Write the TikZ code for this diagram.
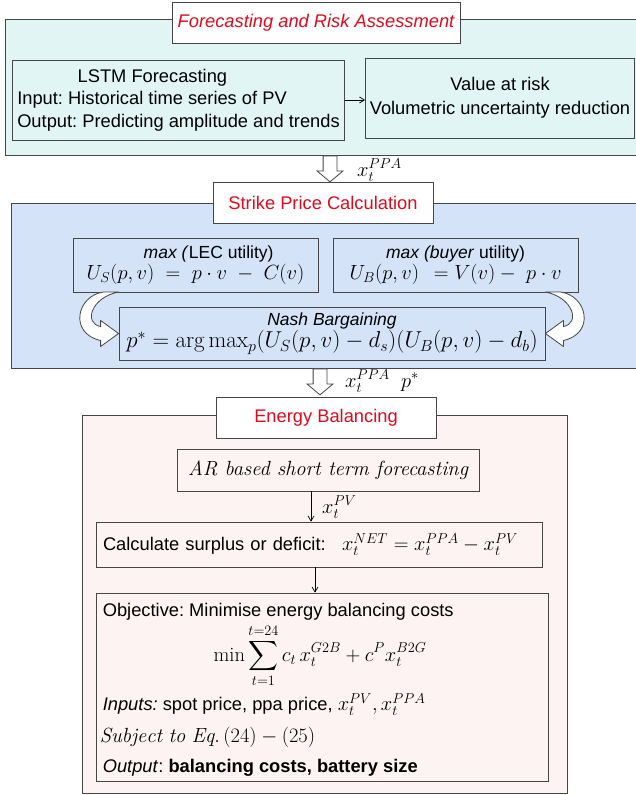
\RequirePackage{fix-cm}
\documentclass[tikz,border=0pt]{standalone}
\usepackage{amsmath}
\usepackage{fontspec}
\setsansfont{Liberation Sans}
\usetikzlibrary{shapes.arrows, arrows.meta, positioning, calc}
\definecolor{edgegray}{RGB}{70,70,70}
\definecolor{titlered}{RGB}{222,10,30}
\definecolor{fillcyan}{RGB}{226,245,245}
\definecolor{fillblue}{RGB}{213,227,248}
\definecolor{fillpink}{RGB}{253,243,243}
\newcommand{\txtsize}{\fontsize{18.3}{22.5}\selectfont}
\newcommand{\mathsize}{\fontsize{20.5}{24}\selectfont}
\tikzset{
  panel/.style={rectangle, draw=edgegray, line width=0.9pt, inner sep=0pt},
  titlebox/.style={rectangle, draw=edgegray, fill=white, line width=0.9pt,
    text=titlered, font=\sffamily\txtsize, inner sep=0pt, minimum height=41pt},
  box/.style={rectangle, draw=edgegray, line width=0.8pt, inner sep=0pt,
    font=\sffamily\txtsize},
  txt/.style={inner sep=0pt, font=\sffamily\txtsize},
  lbl/.style={inner sep=0pt, font=\mathsize},
  blockarr/.style={single arrow, draw=edgegray, fill=white, line width=0.8pt,
    rotate=-90, minimum height=26pt, minimum width=25pt, inner xsep=0pt,
    inner ysep=6.5pt, single arrow head extend=6pt, single arrow tip angle=100},
  bendarr/.style={draw=edgegray, fill=white, line width=0.8pt, line join=round},
  arrow/.style={-{Straight Barb[length=5pt,width=6pt]}, line width=0.7pt}
}

\begin{document}
\frenchspacing
\begin{tikzpicture}[x=1pt, y=-1pt]
  \useasboundingbox (0,0) rectangle (635,795);

  % Forecasting and risk assessment
  \node[panel, fill=fillcyan, minimum width=640pt, minimum height=136pt] (fra) at (325,87) {};
  \node[titlebox, font=\sffamily\itshape\txtsize, minimum width=288pt] (fratitle) at (316,23) {Forecasting and Risk Assessment};
  \node[box, fill=fillcyan, minimum width=332pt, minimum height=80pt, align=left] (lstm) at (178.5,100)
    {\hspace*{3.3em}LSTM Forecasting\\Input: Historical time series of PV\\Output: Predicting amplitude and trends};
  \node[box, fill=fillcyan, minimum width=269pt, minimum height=80pt, align=center] (var) at (500,98)
    {Value at risk\\[2pt]Volumetric uncertainty reduction};
  \draw[arrow] (lstm.east) -- (var.west |- lstm.east);

  \coordinate (colA) at (330,0);
  \node[blockarr, anchor=tail] (arrA) at (colA |- fra.south) {};
  \node[lbl, anchor=west] (lblA) at (357,170) {$x_t^{PPA}$};

  % Strike price calculation
  \node[panel, fill=fillblue, minimum width=630pt, minimum height=165pt] (spc) at (326,285.5) {};
  \node[titlebox, minimum width=220pt] (spctitle) at (323,202.5) {Strike Price Calculation};
  \node[box, fill=fillblue, minimum width=245pt, minimum height=54pt, align=center, font=\sffamily\fontsize{17.5}{20}\selectfont] (lec) at (195.5,265)
    {\hspace*{1.5em}\textit{max (}LEC utility)\\[1pt]{\mathsize$U_S(p,v)\;=\;p\cdot v\;-\;C(v)$}};
  \node[box, fill=fillblue, minimum width=245pt, minimum height=54pt, align=center, font=\sffamily\fontsize{17.5}{20}\selectfont] (buyer) at (455.5,265)
    {\textit{max (buyer} utility)\\[1pt]{\mathsize$U_B(p,v)\;\,= V(v) -\; p\cdot v$}};
  \node[box, fill=fillblue, minimum width=426pt, minimum height=53pt, align=center, font=\sffamily\fontsize{17.5}{20}\selectfont] (nash) at (332,333.5)
    {\textit{Nash Bargaining}\\[1pt]{\fontsize{23}{24}\selectfont$p^* = \arg\max\nolimits_p(U_S(p,v) - d_s)(U_B(p,v) - d_b)$}};

  \begin{scope}[shift={(nash.west)}]
    \draw[bendarr] (0,-41.5) -- (-15,-41.5) .. controls (-42,-38) and (-50,0) .. (-18,7) -- (-18,13) -- (0,0)
      -- (-18,-13) -- (-18,-7) .. controls (-35,-10) and (-28,-36) .. (0,-41.5) -- cycle;
  \end{scope}
  \begin{scope}[shift={(nash.east)}, xscale=-1]
    \draw[bendarr] (0,-41.5) -- (-15,-41.5) .. controls (-42,-38) and (-50,0) .. (-18,7) -- (-18,13) -- (0,0)
      -- (-18,-13) -- (-18,-7) .. controls (-35,-10) and (-28,-36) .. (0,-41.5) -- cycle;
  \end{scope}

  \coordinate (colB) at (320,0);
  \node[blockarr, anchor=tail] (arrB) at (colB |- spc.south) {};
  \node[lbl, anchor=west] (lblB) at (345,381) {$x_t^{PPA}\;\; p^*$};

  % Energy balancing
  \node[panel, fill=fillpink, minimum width=485pt, minimum height=378pt] (eb) at (324.5,604) {};
  \node[titlebox, minimum width=220pt] (ebtitle) at (326,417.5) {Energy Balancing};
  \node[box, fill=fillpink, minimum width=302pt, minimum height=42pt, font=\rmfamily\itshape\fontsize{20.5}{24}\selectfont] (ar) at (328,470)
    {AR based short term forecasting};
  \node[box, fill=fillpink, minimum width=446pt, minimum height=45pt, text width=432pt, inner xsep=7pt, align=left] (calc) at (319,544.5)
    {\makebox[239pt][l]{Calculate surplus or deficit:}{\mathsize$x_t^{NET} = x_t^{PPA} - x_t^{PV}$}};
  \node[box, fill=fillpink, minimum width=452pt, minimum height=188pt] (obj) at (322,687) {};

  \coordinate (colC) at (311,0);
  \draw[arrow] (colC |- ar.south) -- (colC |- calc.north);
  \node[lbl, anchor=west] (lblC) at (322,507) {$x_t^{PV}$};
  \coordinate (colD) at (315,0);
  \draw[arrow] (colD |- calc.south) -- (colD |- obj.north);

  \node[txt, anchor=west] (objtext) at ($(obj.north west)+(7,19)$) {Objective: Minimise energy balancing costs};
  \node[lbl] (objsum) at ($(obj.north)+(-2,63)$)
    {$\displaystyle\min\sum_{t=1}^{t=24} c_t\, x_t^{G2B} + c^P x_t^{B2G}$};
  \node[txt, anchor=west] (objin) at ($(obj.north west)+(7,112)$)
    {\textit{Inputs:} spot price, ppa price, {\mathsize$x_t^{PV}, x_t^{PPA}$}};
  \node[lbl, anchor=west] (objsub) at ($(obj.north west)+(4,145)$) {$\mathit{Subject\ to\ Eq}.\,(24)-(25)$};
  \node[txt, anchor=west] (objout) at ($(obj.north west)+(7,175)$) {\textit{Output}: \textbf{balancing costs, battery size}};
\end{tikzpicture}
\end{document}
